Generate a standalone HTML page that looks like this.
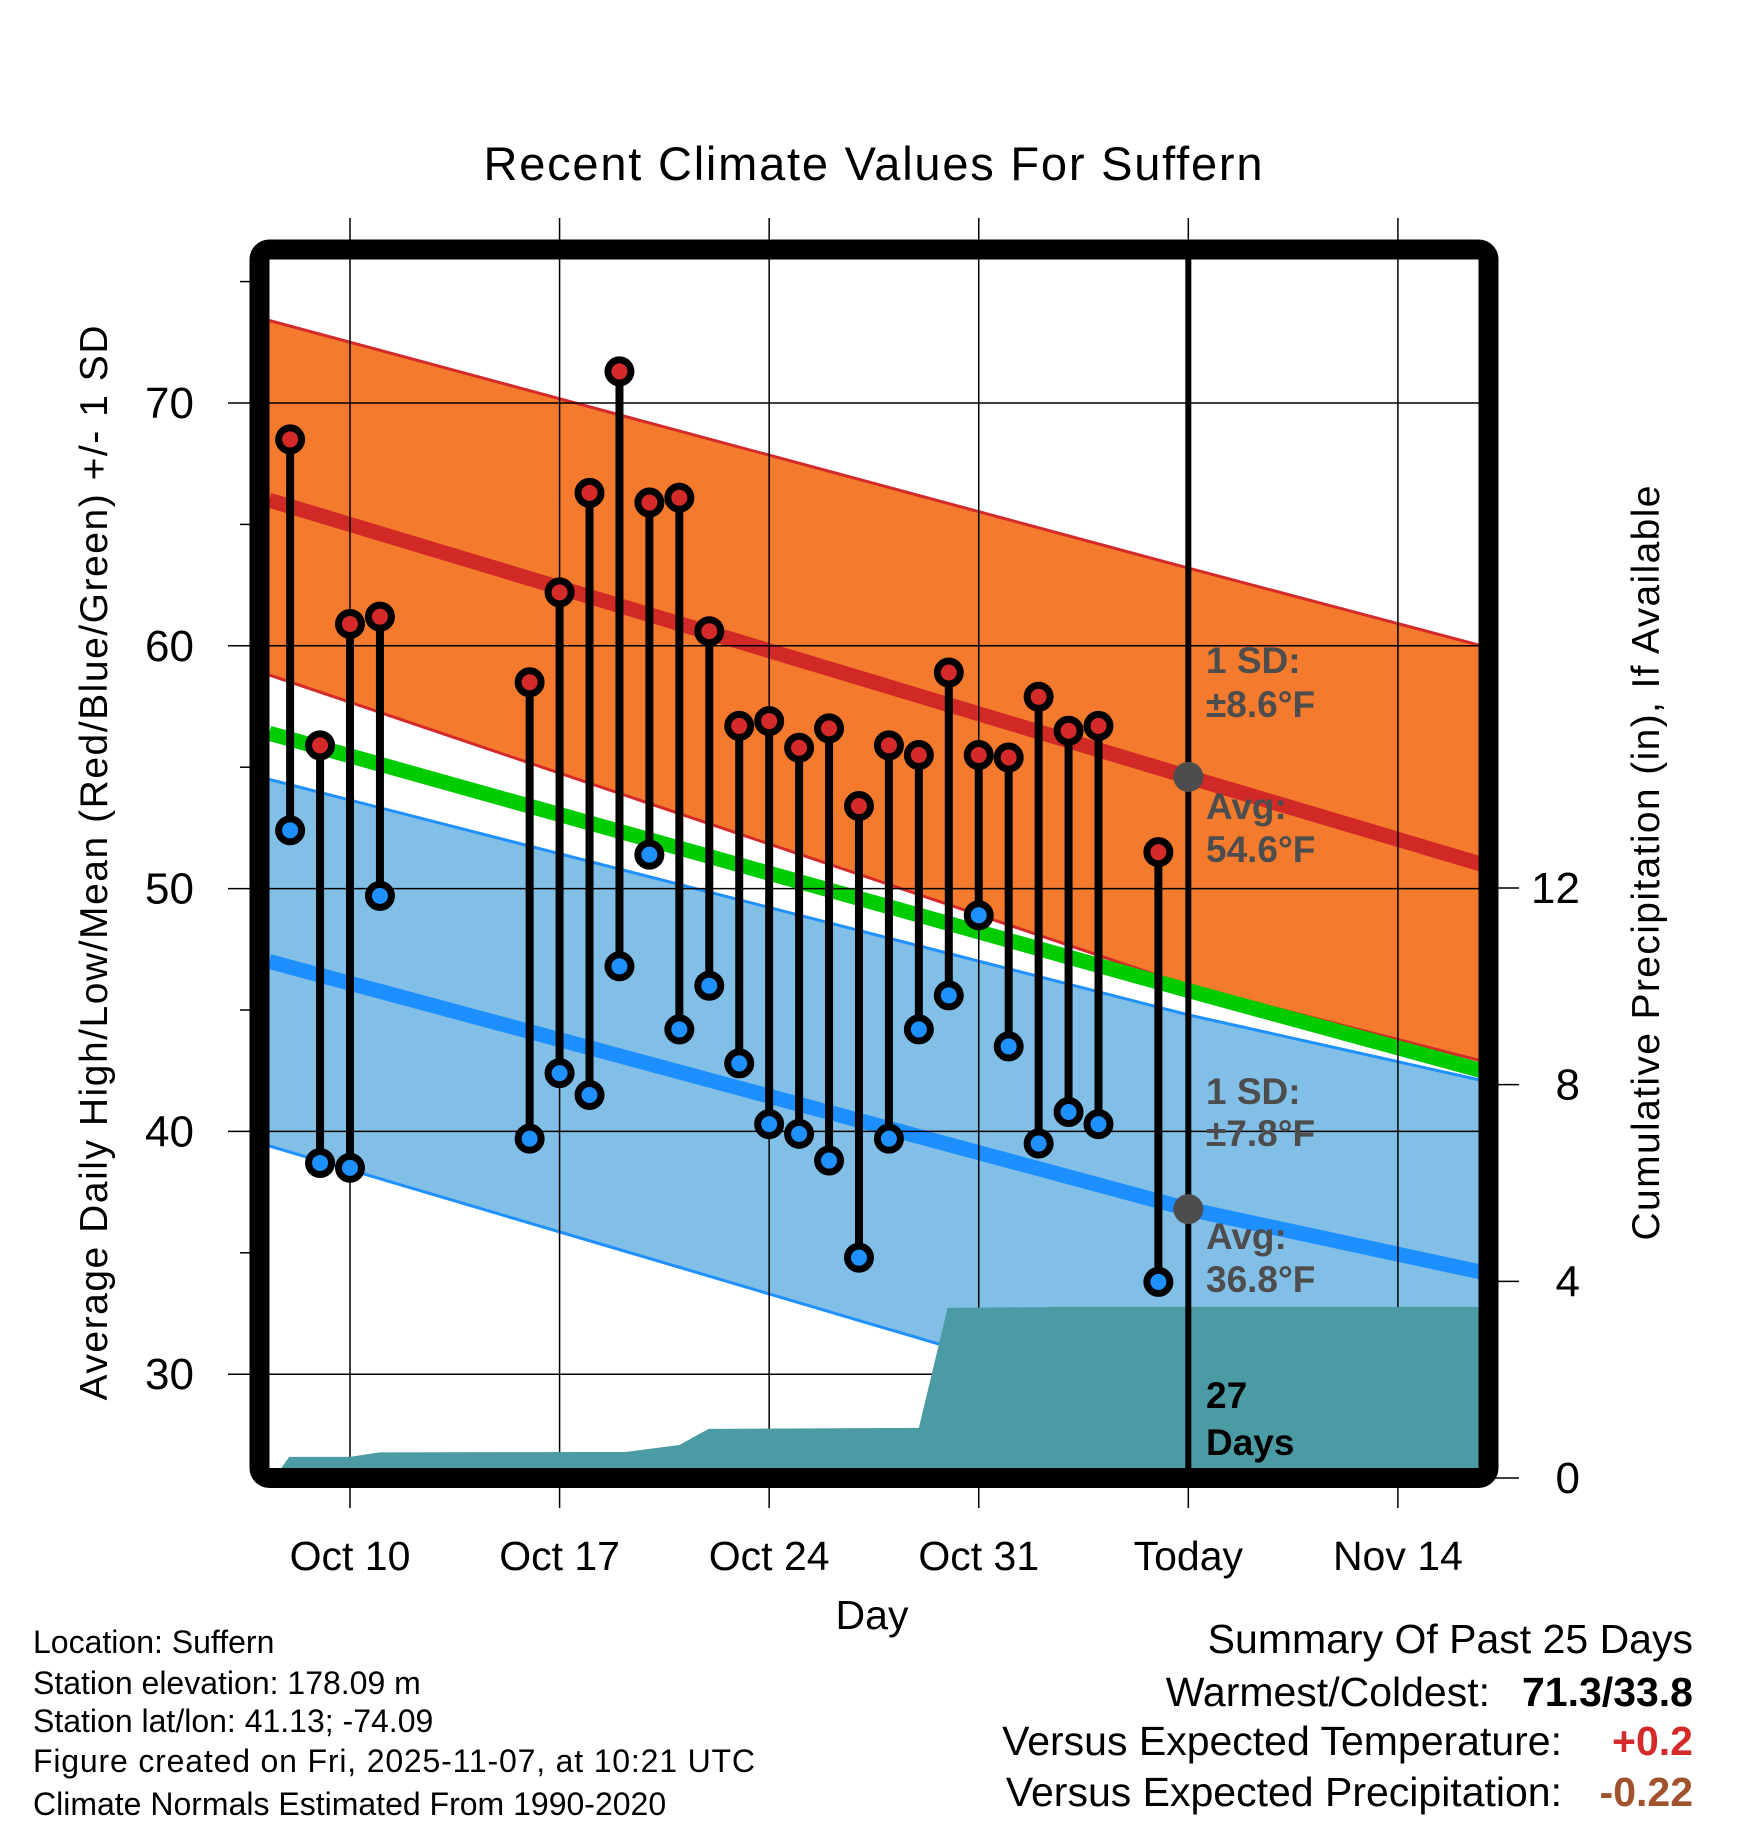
<!DOCTYPE html>
<html><head><meta charset="utf-8"><style>
html,body{margin:0;padding:0;background:#fff}
svg{display:block}
text{font-family:"Liberation Sans",Arial,sans-serif}
</style></head><body>
<svg id="chart" width="1748" height="1828" viewBox="0 0 1748 1828" xmlns="http://www.w3.org/2000/svg">
<defs><clipPath id="plotclip"><rect x="269" y="259" width="1210" height="1210"/></clipPath></defs>
<g id="bands" clip-path="url(#plotclip)"></g>
<g id="grid"></g>
<g id="precip" clip-path="url(#plotclip)"></g>
<g id="marks"></g>
<rect x="259.5" y="249.5" width="1229" height="1228.5" rx="10" fill="none" stroke="#000" stroke-width="20"/>
<g id="labels"></g>
<text x="873" y="180" font-size="47" text-anchor="middle" textLength="779">Recent Climate Values For Suffern</text>
<text transform="translate(107,863) rotate(-90)" font-size="39" text-anchor="middle" textLength="1075">Average Daily High/Low/Mean (Red/Blue/Green) +/- 1 SD</text>
<text transform="translate(1659,863) rotate(-90)" font-size="39" text-anchor="middle" textLength="755">Cumulative Precipitation (in), If Available</text>
<text x="872" y="1629" font-size="41" text-anchor="middle">Day</text>
<g font-size="32">
<text x="33" y="1653">Location: Suffern</text>
<text x="33" y="1694">Station elevation: 178.09 m</text>
<text x="33" y="1732">Station lat/lon: 41.13; -74.09</text>
<text x="33" y="1772" textLength="722">Figure created on Fri, 2025-11-07, at 10:21 UTC</text>
<text x="33" y="1815">Climate Normals Estimated From 1990-2020</text>
</g>
<g font-size="41">
<text x="1693" y="1653" text-anchor="end">Summary Of Past 25 Days</text>
<text x="1490" y="1706" text-anchor="end">Warmest/Coldest:</text>
<text x="1693" y="1706" text-anchor="end" font-weight="bold">71.3/33.8</text>
<text x="1562" y="1755" text-anchor="end">Versus Expected Temperature:</text>
<text x="1693" y="1755" text-anchor="end" font-weight="bold" fill="#d42a2a">+0.2</text>
<text x="1562" y="1806" text-anchor="end">Versus Expected Precipitation:</text>
<text x="1693" y="1806" text-anchor="end" font-weight="bold" fill="#a0522d">-0.22</text>
</g>
</svg>
<script>
// day offsets relative to Oct 10
const obsDays=[-2,-1,0,1,6,7,8,9,10,11,12,13,14,15,16,17,18,19,20,21,22,23,24,25,27];
const highs=[68.5,55.9,60.9,61.2,58.5,62.2,66.3,71.3,65.9,66.1,60.6,56.7,56.9,55.8,56.6,53.4,55.9,55.5,58.9,55.5,55.4,57.9,56.5,56.7,51.5];
const lows=[52.4,38.7,38.5,49.7,39.7,42.4,41.5,46.8,51.4,44.2,46.0,42.8,40.3,39.9,38.8,34.8,39.7,44.2,45.6,48.9,43.5,39.5,40.8,40.3,33.8];
const normDays=[-2.7,28,37.8];
const highUpper=[73.4,63.2,60.0];
const highAvg=[66.0,54.6,51.0];
const highLower=[58.8,46.0,42.9];
const meanAvg=[56.4,45.8,42.5];
const lowUpper=[54.5,44.8,42.1];
const lowAvg=[47.0,36.8,34.2];
const lowLower=[39.4,28.2,24.6];
const precipDays=[-2.53,-2.03,0,0.99,9.2,11.0,11.98,19.0,19.96,24.0,37.8];
const precipVals=[0,0.43,0.43,0.52,0.53,0.67,1.0,1.02,3.46,3.48,3.48];
const xTickDays=[0,7,14,21,28,35];
const xTickLabels=["Oct 10","Oct 17","Oct 24","Oct 31","Today","Nov 14"];
const yTicks=[30,40,50,60,70];
const yMinor=[35,45,55,65,75];
const y2Ticks=[0,4,8,12];
const todayDay=28;

const X=d=>350+d*29.94;
const Y=v=>403+(70-v)*24.28;
const Y2=p=>1478-p*49.17;
const NS="http://www.w3.org/2000/svg";
function mk(tag,attrs,parent){const e=document.createElementNS(NS,tag);for(const k in attrs)e.setAttribute(k,attrs[k]);parent.appendChild(e);return e;}
const bands=document.getElementById('bands'),grid=document.getElementById('grid'),precip=document.getElementById('precip'),marks=document.getElementById('marks'),labels=document.getElementById('labels');
function pts(a){return normDays.map((d,i)=>X(d)+","+Y(a[i])).join(" ");}
function band(up,lo,fill,edge,name){
  const p=mk('polygon',{points:pts(up)+" "+normDays.slice().reverse().map((d,i)=>X(d)+","+Y(lo[lo.length-1-i])).join(" "),fill:fill},bands);
  
  
  [up,lo].forEach(a=>{const l=mk('polyline',{points:pts(a),fill:'none',stroke:edge,'stroke-width':3},bands);
    
    });
}
band(highUpper,highLower,'#f47a2e','#d42a2a','high-sd-band');
band(lowUpper,lowLower,'#82bfe6','#1e90ff','low-sd-band');
[[meanAvg,'#00cc00','mean-line'],[highAvg,'#d12a26','avg-high-line'],[lowAvg,'#1e8fff','avg-low-line']].forEach(([a,c,n])=>{
  const l=mk('polyline',{points:pts(a),fill:'none',stroke:c,'stroke-width':15},bands);
  
  
});
xTickDays.forEach((d,i)=>{
  const l=mk('line',{x1:X(d),x2:X(d),y1:218,y2:1508,stroke:'#000','stroke-width':1.5},grid);
  
  
  const t=mk('text',{x:X(d),y:1570,'font-size':41,'text-anchor':'middle'},labels);
  t.textContent=xTickLabels[i];
  
  
});
yTicks.forEach(v=>{
  const l=mk('line',{x1:228,x2:1488,y1:Y(v),y2:Y(v),stroke:'#000','stroke-width':1.5},grid);
  
  
  const t=mk('text',{x:194,y:Y(v)+15,'font-size':44,'text-anchor':'end'},labels);
  t.textContent=v;
  
  
});
yMinor.forEach(v=>{
  const l=mk('line',{x1:240,x2:252,y1:Y(v),y2:Y(v),stroke:'#000','stroke-width':1.5},grid);
  
  
});
y2Ticks.forEach(p=>{
  const l=mk('line',{x1:1495,x2:1519,y1:Y2(p),y2:Y2(p),stroke:'#000','stroke-width':1.5},grid);
  
  
  const t=mk('text',{x:1580,y:Y2(p)+15,'font-size':44,'text-anchor':'end'},labels);
  t.textContent=p;
  
  
});
const pp=precipDays.map((d,i)=>X(d)+","+Y2(precipVals[i])).join(" ")+" "+X(precipDays[precipDays.length-1])+",1480 "+X(precipDays[0])+",1480";
const pa=mk('polygon',{points:pp,fill:'#4a9ba3'},precip);


const tl=mk('line',{x1:X(todayDay),x2:X(todayDay),y1:259,y2:1470,stroke:'#000','stroke-width':6},marks);


[highAvg,lowAvg].forEach((a,k)=>{
  const c=mk('circle',{cx:X(todayDay),cy:Y(a[1]),r:15,fill:'#4d4d4d'},marks);
  
  
});
obsDays.forEach((d,i)=>{
  const s=mk('line',{x1:X(d),x2:X(d),y1:Y(highs[i]),y2:Y(lows[i]),stroke:'#000','stroke-width':8},marks);
  
  
});
obsDays.forEach((d,i)=>{
  const h=mk('circle',{cx:X(d),cy:Y(highs[i]),r:11.5,fill:'#d42a2a',stroke:'#000','stroke-width':7},marks);
  
  
  const l=mk('circle',{cx:X(d),cy:Y(lows[i]),r:11.5,fill:'#1e90ff',stroke:'#000','stroke-width':7},marks);
  
  
});
const ann=[["1 SD:",673,'#4d4d4d','high-sd-label'],["±8.6°F",717,'#4d4d4d','high-sd-value'],["Avg:",819,'#4d4d4d','avg-high-label'],["54.6°F",862,'#4d4d4d','avg-high-value'],
["1 SD:",1104,'#4d4d4d','low-sd-label'],["±7.8°F",1146,'#4d4d4d','low-sd-value'],["Avg:",1249,'#4d4d4d','avg-low-label'],["36.8°F",1292,'#4d4d4d','avg-low-value'],
["27",1408,'#000','days-count'],["Days",1455,'#000','days-label']];
ann.forEach(([s,y,c,n])=>{
  const t=mk('text',{x:1206,y:y,'font-size':37,'font-weight':'bold',fill:c},labels);
  t.textContent=s;
  
  
});
</script>
</body></html>
